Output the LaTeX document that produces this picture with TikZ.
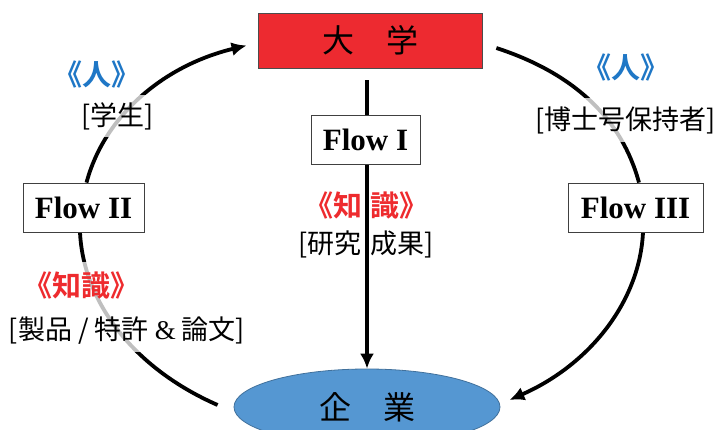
\documentclass[tikz,border=0pt]{standalone}
\usepackage{fontspec}
\setmainfont{Liberation Serif}
\newfontfamily\cjk{Noto Sans CJK JP}[BoldFont={Noto Sans CJK JP Bold}]
\usetikzlibrary{shapes.geometric,arrows.meta,backgrounds}
\definecolor{unired}{HTML}{ED2A30}
\definecolor{entblue}{HTML}{5597D2}
\definecolor{entedge}{HTML}{41719C}
\definecolor{pblue}{HTML}{1F77C6}
\definecolor{kred}{HTML}{EE2B2E}
\begin{document}
\begin{tikzpicture}[x=1pt,y=-1pt,
  box/.style={draw=black!75,line width=0.8pt,fill=white,minimum height=49pt,inner sep=0pt,font=\fontsize{31}{31}\selectfont\bfseries},
  arcline/.style={line width=3.8pt},
  tipend/.style={-{Latex[length=15pt,width=14pt]}},
  lab/.style={inner xsep=2pt,inner ysep=0pt,font=\cjk\fontsize{27}{27}\selectfont},
  veil/.style={fill=white,fill opacity=0.75,text opacity=1},
  ppl/.style={lab,text=pblue,font=\cjk\bfseries\fontsize{29}{29}\selectfont},
  know/.style={lab,text=kred,font=\cjk\bfseries\fontsize{29}{29}\selectfont}
]
\useasboundingbox (0,0) rectangle (716,430);
% main nodes
\node[draw=black!70,line width=0.8pt,fill=unired,minimum width=224pt,minimum height=55pt,inner sep=0pt,font=\cjk\fontsize{32}{32}\selectfont] (uni) at (370,40.5) {大　学};
\node[ellipse,draw=entedge,line width=0.8pt,fill=entblue,minimum width=266pt,minimum height=76pt,inner sep=0pt,font=\cjk\fontsize{32}{32}\selectfont] (ent) at (367,407) {企　業};
\node[box,minimum width=109pt] (f1) at (365.5,139.5) {Flow I};
\node[box,minimum width=121pt] (f2) at (83.5,207.5) {Flow II};
\node[box,minimum width=135pt] (f3) at (635.5,207.5) {Flow III};
% labels over the arcs
\node[ppl] (p1) at (97,74) {《人》};
\node[lab,veil,minimum height=42pt] (s1) at (117.5,116) {[学生]};
\node[ppl] (p2) at (626,67.5) {《人》};
\node[lab,veil,minimum height=44pt] (s2) at (625.5,120) {[博士号保持者]};
\node[know,veil,minimum height=48pt] (k2) at (81.5,286) {《知識》};
\node[lab,veil,minimum height=42pt] (s3) at (127,331) {[製品 / 特許 {\rmfamily\&} 論文]};
\begin{pgfonlayer}{background}
\fill[white] (0,0) rectangle (716,430);
\node[know] (k1) at (366.5,206) {《知\hspace{9pt}識》};
\node[lab] (s4) at (366,244) {[研究\hspace{9pt}成果]};
\draw[line width=3.3pt,tipend] ([yshift=-12pt]uni.south -| ent.north) -- (ent.north);
\draw[arcline,tipend] ([xshift=3pt]f2.north) .. controls (104,117) and (162,66) .. ([xshift=-11pt,yshift=-5pt]uni.west);
\draw[arcline] ([xshift=14pt,yshift=-7.5pt]uni.east) .. controls (576,74) and (622,120) .. ([xshift=3.5pt]f3.north);
\draw[arcline] ([xshift=-3.5pt]f2.south) .. controls (83.4,302.8) and (134.4,368.6) .. ([xshift=-16pt,yshift=2pt]ent.west);
\draw[arcline,tipend] ([xshift=7.5pt]f3.south) .. controls (639.7,301) and (590.3,364.4) .. ([xshift=9pt,yshift=7pt]ent.east);
\end{pgfonlayer}
\end{tikzpicture}
\end{document}
